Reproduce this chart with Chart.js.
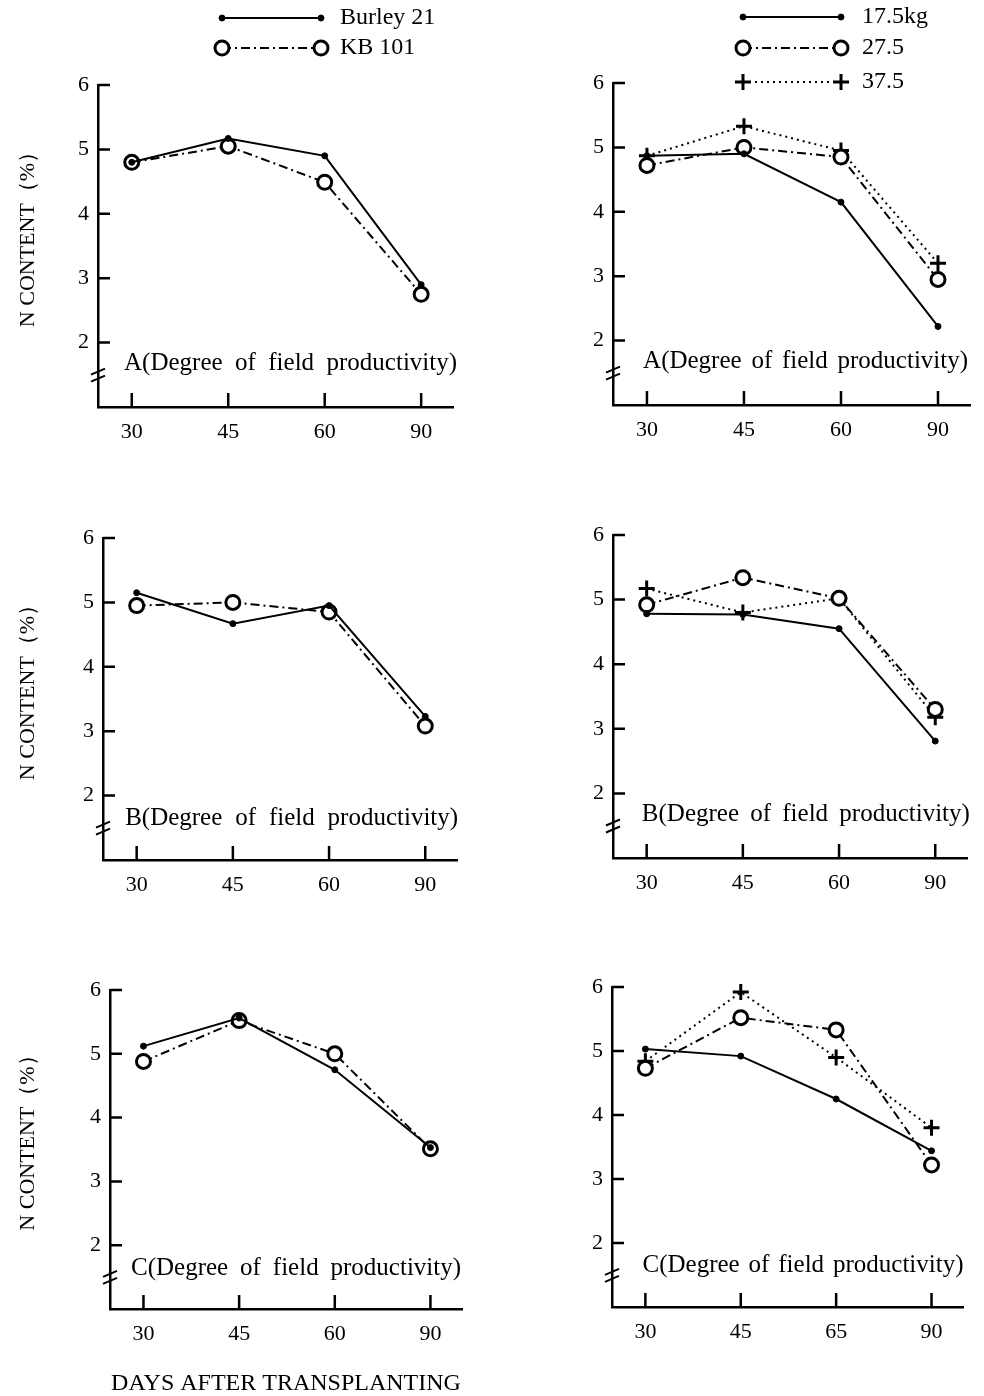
<!DOCTYPE html>
<html><head><meta charset="utf-8">
<script src="https://cdn.jsdelivr.net/npm/chart.js@4.4.1/dist/chart.umd.min.js"></script>
<style>
html,body{margin:0;padding:0;background:#fff;width:984px;height:1396px;overflow:hidden;}
canvas{position:absolute;}
</style></head><body>
<script>
// ---------- DATA ----------
const daysLeft = ['30', '45', '60', '90'];
const daysRightAB = ['30', '45', '60', '90'];
const daysRightC = ['30', '45', '65', '90'];
const yTickValues = [2, 3, 4, 5, 6];
const varietyNames = ['Burley 21', 'KB 101'];
const rateNames = ['17.5kg', '27.5', '37.5'];

const burleyA = [4.80, 5.17, 4.90, 2.90];
const kbA     = [4.80, 5.05, 4.49, 2.75];
const burleyB = [5.15, 4.67, 4.95, 3.23];
const kbB     = [4.95, 5.00, 4.85, 3.08];
const burleyC = [5.12, 5.56, 4.75, 3.53];
const kbC     = [4.88, 5.52, 5.00, 3.51];

const n175A = [4.87, 4.90, 4.15, 2.22];
const n275A = [4.72, 5.00, 4.85, 2.95];
const n375A = [4.87, 5.33, 4.95, 3.20];
const n175B = [4.78, 4.77, 4.55, 2.81];
const n275B = [4.92, 5.34, 5.02, 3.30];
const n375B = [5.17, 4.80, 5.02, 3.18];
const n175C = [5.03, 4.92, 4.25, 3.44];
const n275C = [4.73, 5.52, 5.33, 3.22];
const n375C = [4.84, 5.92, 4.90, 3.80];

const captionA = 'A(Degree of field productivity)';
const captionB = 'B(Degree of field productivity)';
const captionC = 'C(Degree of field productivity)';
const yTitleText = 'N CONTENT（%）';
const xTitleText = 'DAYS AFTER TRANSPLANTING';

// ---------- STYLES ----------
const FONT = "'Liberation Serif', 'Times New Roman', serif";
const STYLES = {
  solid:   { borderDash: [], pointStyle: 'circle', pointRadius: 3, pointBackgroundColor: '#000', pointBorderWidth: 1 },
  dashdot: { borderDash: [9, 4, 2, 4], pointStyle: 'circle', pointRadius: 7, pointBackgroundColor: '#fff', pointBorderWidth: 3 },
  dotted:  { borderDash: [2, 4], pointStyle: 'cross', pointRadius: 8, pointBackgroundColor: '#000', pointBorderWidth: 3 }
};

function drawMarker(ctx, st, x, y) {
  ctx.save();
  ctx.setLineDash([]);
  ctx.strokeStyle = '#000';
  ctx.lineWidth = st.pointBorderWidth;
  if (st.pointStyle === 'cross') {
    ctx.beginPath();
    ctx.moveTo(x - st.pointRadius, y); ctx.lineTo(x + st.pointRadius, y);
    ctx.moveTo(x, y - st.pointRadius); ctx.lineTo(x, y + st.pointRadius);
    ctx.stroke();
  } else {
    ctx.beginPath();
    ctx.arc(x, y, st.pointRadius, 0, Math.PI * 2);
    ctx.fillStyle = st.pointBackgroundColor;
    ctx.fill();
    ctx.stroke();
  }
  ctx.restore();
}

function makeDecor(cfg) {
  return {
    id: 'decor_' + cfg.id,
    afterDraw(chart) {
      const ctx = chart.ctx;
      const xs = chart.scales.x, ys = chart.scales.y;
      const area = chart.chartArea;
      ctx.save();
      ctx.strokeStyle = '#000';
      ctx.lineWidth = 2.5;
      ctx.setLineDash([]);
      // inward tick marks
      ctx.beginPath();
      yTickValues.forEach(v => {
        const py = ys.getPixelForValue(v);
        ctx.moveTo(area.left, py); ctx.lineTo(area.left + 12, py);
      });
      cfg.labels.forEach((_, i) => {
        const px = xs.getPixelForValue(i);
        ctx.moveTo(px, area.bottom); ctx.lineTo(px, area.bottom - 14);
      });
      ctx.stroke();
      // axis break marks
      const by = ys.getPixelForValue(1.55);
      ctx.lineWidth = 2;
      ctx.beginPath();
      [0, 7].forEach(d => {
        ctx.moveTo(area.left - 7, by + d + 3); ctx.lineTo(area.left + 7, by + d - 3);
      });
      ctx.stroke();
      ctx.fillStyle = '#000';
      // y axis title
      if (cfg.yTitle) {
        ctx.save();
        ctx.font = '22px ' + FONT;
        ctx.textAlign = 'center';
        ctx.textBaseline = 'middle';
        ctx.translate(28, (area.top + area.bottom) / 2 - 12);
        ctx.rotate(-Math.PI / 2);
        ctx.fillText(yTitleText, 0, 0);
        ctx.restore();
      }
      // caption
      ctx.font = '25px ' + FONT;
      ctx.textBaseline = 'middle';
      ctx.textAlign = 'left';
      const words = cfg.caption.split(' ');
      const widths = words.map(w => ctx.measureText(w).width);
      const total = widths.reduce((a, b) => a + b, 0);
      const gap = (cfg.capWidth - total) / (words.length - 1);
      let cx = xs.getPixelForValue(cfg.capX);
      const cy = ys.getPixelForValue(cfg.capY);
      words.forEach((w, i) => { ctx.fillText(w, cx, cy); cx += widths[i] + gap; });
      // legend
      if (cfg.legend) {
        const L = cfg.legend;
        chart.data.datasets.forEach((ds, i) => {
          const st = cfg.series[i].style;
          const ly = L.rows[i];
          ctx.save();
          ctx.lineWidth = 2;
          ctx.setLineDash(st.borderDash);
          ctx.beginPath();
          ctx.moveTo(L.x1, ly); ctx.lineTo(L.x2, ly);
          ctx.stroke();
          ctx.restore();
          drawMarker(ctx, st, L.x1, ly);
          drawMarker(ctx, st, L.x2, ly);
          ctx.font = '24px ' + FONT;
          ctx.fillStyle = '#000';
          ctx.textBaseline = 'middle';
          ctx.fillText(ds.label, L.textX, ly);
        });
      }
      ctx.restore();
    }
  };
}

function makePanel(cfg) {
  const canvas = document.createElement('canvas');
  const width = cfg.canvasRight - cfg.canvasLeft;
  const height = cfg.CB - cfg.canvasTop + cfg.XH;
  canvas.width = width; canvas.height = height;
  canvas.style.left = cfg.canvasLeft + 'px';
  canvas.style.top = cfg.canvasTop + 'px';
  canvas.style.width = width + 'px';
  canvas.style.height = height + 'px';
  document.body.appendChild(canvas);
  const YW = cfg.CL - cfg.canvasLeft;
  const PT = cfg.CT - cfg.canvasTop;
  const PR = width - (cfg.CR - cfg.canvasLeft);
  const labels = cfg.labels;
  const datasets = cfg.series.map(s => Object.assign({
    label: s.name,
    data: s.data.map((v, i) => ({ x: i, y: v })),
    borderColor: '#000',
    borderWidth: 2,
    pointBorderColor: '#000',
    pointHoverRadius: s.style.pointRadius,
    fill: false,
    tension: 0,
    clip: false
  }, s.style));
  const tickFont = { family: FONT, size: 22 };
  new Chart(canvas, {
    type: 'line',
    data: { datasets },
    options: {
      responsive: false,
      animation: false,
      devicePixelRatio: 1,
      layout: { padding: { top: PT, right: PR, left: 0, bottom: 0 } },
      plugins: { legend: { display: false }, tooltip: { enabled: false } },
      scales: {
        x: {
          type: 'linear', min: -0.35, max: 3.33,
          afterBuildTicks: s => { s.ticks = labels.map((_, i) => ({ value: i })); },
          afterFit: s => { s.height = cfg.XH; },
          grid: { display: false, drawTicks: false },
          border: { display: true, width: 2.5, color: '#000' },
          ticks: { callback: v => labels[v], font: tickFont, color: '#000', padding: 12, maxRotation: 0, autoSkip: false },
          title: cfg.xTitle ? { display: true, text: xTitleText, color: '#000',
            font: { family: FONT, size: 24, lineHeight: 1 }, padding: { top: 0, bottom: 0 } } : { display: false }
        },
        y: {
          type: 'linear', min: 1, max: 6,
          afterBuildTicks: s => { s.ticks = yTickValues.map(v => ({ value: v })); },
          afterFit: s => { s.width = YW; },
          grid: { display: false, drawTicks: false },
          border: { display: true, width: 2.5, color: '#000' },
          ticks: { font: tickFont, color: '#000', padding: 9 },
          title: { display: false }
        }
      }
    },
    plugins: [makeDecor(cfg)]
  });
}

const S = STYLES;
makePanel({ id: 'LA', canvasLeft: 0, canvasRight: 475, canvasTop: 0, CL: 98, CR: 453, CT: 85, CB: 407, XH: 50,
  labels: daysLeft, yTitle: true, caption: captionA, capX: -0.08, capY: 1.67, capWidth: 333,
  series: [{ name: varietyNames[0], data: burleyA, style: S.solid }, { name: varietyNames[1], data: kbA, style: S.dashdot }],
  legend: { x1: 222, x2: 321, textX: 340, rows: [18, 48] } });
makePanel({ id: 'RA', canvasLeft: 540, canvasRight: 984, canvasTop: 0, CL: 613, CR: 970, CT: 83, CB: 405, XH: 50,
  labels: daysRightAB, yTitle: false, caption: captionA, capX: -0.04, capY: 1.67, capWidth: 325,
  series: [{ name: rateNames[0], data: n175A, style: S.solid }, { name: rateNames[1], data: n275A, style: S.dashdot }, { name: rateNames[2], data: n375A, style: S.dotted }],
  legend: { x1: 743 - 540, x2: 841 - 540, textX: 862 - 540, rows: [17, 48, 82] } });
makePanel({ id: 'LB', canvasLeft: 0, canvasRight: 475, canvasTop: 470, CL: 103, CR: 457, CT: 538, CB: 860, XH: 50,
  labels: daysLeft, yTitle: true, caption: captionB, capX: -0.12, capY: 1.64, capWidth: 333,
  series: [{ name: varietyNames[0], data: burleyB, style: S.solid }, { name: varietyNames[1], data: kbB, style: S.dashdot }] });
makePanel({ id: 'RB', canvasLeft: 540, canvasRight: 984, canvasTop: 470, CL: 613, CR: 967, CT: 535, CB: 858, XH: 50,
  labels: daysRightAB, yTitle: false, caption: captionB, capX: -0.05, capY: 1.68, capWidth: 328,
  series: [{ name: rateNames[0], data: n175B, style: S.solid }, { name: rateNames[1], data: n275B, style: S.dashdot }, { name: rateNames[2], data: n375B, style: S.dotted }] });
makePanel({ id: 'LC', canvasLeft: 0, canvasRight: 480, canvasTop: 930, CL: 110, CR: 462, CT: 990, CB: 1309, XH: 87,
  labels: daysLeft, yTitle: true, xTitle: true, caption: captionC, capX: -0.13, capY: 1.64, capWidth: 330,
  series: [{ name: varietyNames[0], data: burleyC, style: S.solid }, { name: varietyNames[1], data: kbC, style: S.dashdot }] });
makePanel({ id: 'RC', canvasLeft: 540, canvasRight: 984, canvasTop: 930, CL: 612, CR: 963, CT: 987, CB: 1307, XH: 50,
  labels: daysRightC, yTitle: false, caption: captionC, capX: -0.03, capY: 1.65, capWidth: 321,
  series: [{ name: rateNames[0], data: n175C, style: S.solid }, { name: rateNames[1], data: n275C, style: S.dashdot }, { name: rateNames[2], data: n375C, style: S.dotted }] });
</script>
</body></html>
